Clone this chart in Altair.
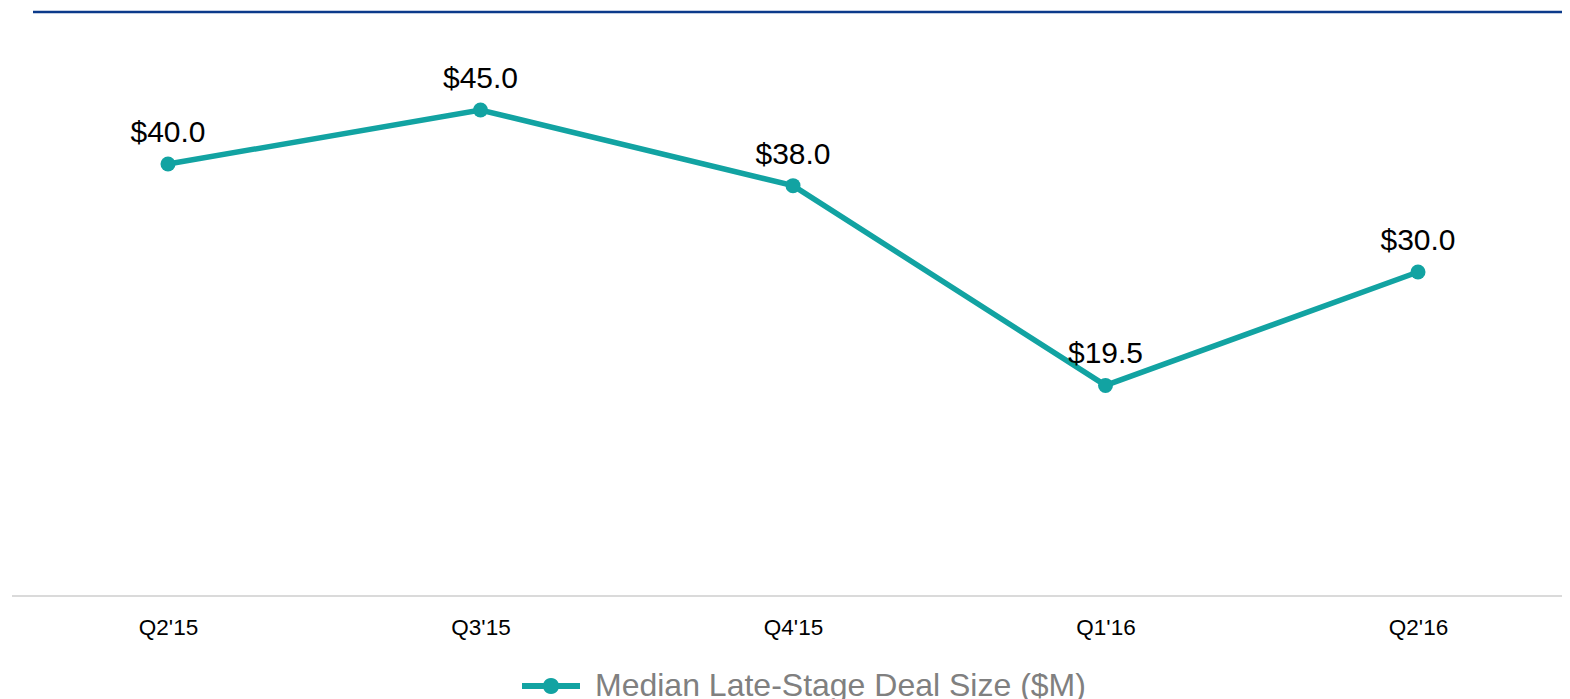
import math
import altair as alt
import pandas as pd

quarters = ["Q2'15", "Q3'15", "Q4'15", "Q1'16", "Q2'16"]
values = [40.0, 45.0, 38.0, 19.5, 30.0]
labels = ["$40.0", "$45.0", "$38.0", "$19.5", "$30.0"]
series_name = "Median Late-Stage Deal Size ($M)"

TEAL = "#12a3a2"
NAVY = "#0b3a8a"
FONT = "Liberation Sans"
W, H = 1550, 585

df = pd.DataFrame({"q": quarters, "v": values, "lab": labels, "s": [series_name] * len(quarters)})
zero_df = pd.DataFrame({"z": [0.0]})

yscale = alt.Scale(domain=[0, 54.17], nice=False, zero=True)

xenc = alt.X("q:N", sort=quarters,
             scale=alt.Scale(type="point", range=[156, 1406], padding=0),
             axis=alt.Axis(title=None, domain=False, ticks=False, grid=False,
                           labelAngle=0, labelFontSize=22.5, labelColor="#000000",
                           labelFont=FONT, labelPadding=20))
yenc = alt.Y("v:Q", scale=yscale, axis=None)

base = alt.Chart(df)

line = base.mark_line(strokeWidth=5.5, color=TEAL).encode(x=xenc, y=yenc)

# legend glyph: short bar with a dot in the middle
circ = " ".join(
    ("M" if k == 0 else "L") + f" {0.28*math.cos(2*math.pi*k/24):.3f} {0.28*math.sin(2*math.pi*k/24):.3f}"
    for k in range(24)) + " Z"
path = "M -1 -0.1 L 1 -0.1 L 1 0.1 L -1 0.1 Z " + circ

points = base.mark_point(filled=True, size=225, opacity=1).encode(
    x=xenc, y=yenc,
    color=alt.Color("s:N", scale=alt.Scale(range=[TEAL]),
                    legend=alt.Legend(title=None, orient="none", legendX=510, legendY=646,
                                      symbolType=path, symbolSize=3364, symbolStrokeWidth=0,
                                      symbolFillColor=TEAL, symbolOpacity=1,
                                      labelFontSize=32, labelColor="#808080", labelFont=FONT,
                                      labelOffset=15, padding=0, labelLimit=1000)))

text = base.mark_text(fontSize=30, font=FONT, color="#000000", baseline="alphabetic", dy=-22).encode(
    x=xenc, y=yenc, text="lab:N")

baseline_rule = alt.Chart(zero_df).mark_rule(color="#dadada", strokeWidth=2).encode(
    y=alt.Y("z:Q", scale=yscale, axis=None))

top_rule = alt.Chart(zero_df).mark_rule(color=NAVY, strokeWidth=2.5).encode(
    x=alt.value(21), x2=alt.value(W), y=alt.value(1))

chart = alt.layer(baseline_rule, top_rule, line, points, text).properties(
    width=W, height=H,
    autosize=alt.AutoSizeParams(type="none"),
    padding={"left": 4, "top": 3, "right": 0, "bottom": 103},
).configure_view(stroke=None)

chart.save("out.html", embed_options={"renderer": "svg", "actions": False})
